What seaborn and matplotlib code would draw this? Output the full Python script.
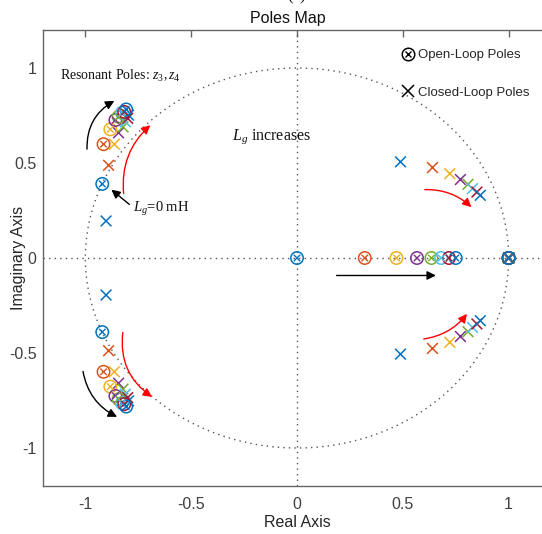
import numpy as np
import pandas as pd
import matplotlib
matplotlib.use("Agg")
import matplotlib.pyplot as plt
from matplotlib.lines import Line2D
import seaborn as sns

# ---------------- data ----------------
series = ["L1", "L2", "L3", "L4", "L5", "L6", "L7", "L8"]
colors = ["#0072BD", "#D95319", "#EDB120", "#7E2F8E", "#77AC30", "#4DBEEE", "#A2142F", "#0072BD"]

ol_real = [0.0, 0.32, 0.47, 0.567, 0.635, 0.681, 0.718, 0.75]
ol_unit = [1.0, 1.0, 1.0, 1.0, 1.0, 1.0, 1.0, 1.0]
ol_res_re = [-0.92, -0.914, -0.882, -0.858, -0.843, -0.827, -0.816, -0.807]
ol_res_im = [0.39, 0.599, 0.677, 0.726, 0.743, 0.764, 0.769, 0.782]

cl_unit = [1.0, 1.0, 1.0, 1.0, 1.0, 1.0, 1.0, 1.0]
cl_left_re = [-0.902, -0.89, -0.863, -0.843, -0.822, -0.811, -0.80, -0.796]
cl_left_im = [0.195, 0.488, 0.599, 0.659, 0.69, 0.717, 0.735, 0.752]
cl_right_re = [0.489, 0.64, 0.722, 0.772, 0.808, 0.829, 0.85, 0.866]
cl_right_im = [0.506, 0.476, 0.444, 0.413, 0.388, 0.365, 0.347, 0.33]

# ---------------- build tables ----------------
ol_rows, cl_rows = [], []
for i, s in enumerate(series):
    ol_rows += [(s, ol_real[i], 0.0), (s, ol_unit[i], 0.0),
                (s, ol_res_re[i], ol_res_im[i]), (s, ol_res_re[i], -ol_res_im[i])]
    cl_rows += [(s, cl_unit[i], 0.0),
                (s, cl_left_re[i], cl_left_im[i]), (s, cl_left_re[i], -cl_left_im[i]),
                (s, cl_right_re[i], cl_right_im[i]), (s, cl_right_re[i], -cl_right_im[i])]
ol = pd.DataFrame(ol_rows, columns=["series", "re", "im"])
cl = pd.DataFrame(cl_rows, columns=["series", "re", "im"])

sns.set_theme(style="white")
plt.rcParams["font.family"] = ["Liberation Sans", "DejaVu Sans"]
plt.rcParams["mathtext.fontset"] = "custom"
plt.rcParams["mathtext.rm"] = "Liberation Serif"
plt.rcParams["mathtext.it"] = "Liberation Serif:italic"

fig = plt.figure(figsize=(5.42, 5.34), dpi=100)
ax = fig.add_axes([43 / 542, 48 / 534, 508 / 542, 456 / 534])
pal = dict(zip(series, colors))

# reference lines
th = np.linspace(0, 2 * np.pi, 400)
ax.plot(np.cos(th), np.sin(th), ls=(0, (1, 3)), color="#555555", lw=1.0, zorder=1)
ax.axhline(0, ls=(0, (1, 3)), color="#555555", lw=1.0, zorder=1)
ax.axvline(0, ls=(0, (1, 3)), color="#555555", lw=1.0, zorder=1)

# closed-loop poles (x)
sns.scatterplot(data=cl, x="re", y="im", hue="series", palette=pal, marker="x",
                s=60, linewidth=1.1, legend=False, ax=ax, zorder=3)
# open-loop poles (circle with x)
sns.scatterplot(data=ol, x="re", y="im", hue="series", palette=pal, marker="o",
                s=80, linewidth=1.1, legend=False, ax=ax, zorder=4)
coll = ax.collections[-1]
fc = coll.get_facecolors()
coll.set_edgecolors(fc)
coll.set_facecolors("none")
sns.scatterplot(data=ol, x="re", y="im", hue="series", palette=pal, marker="x",
                s=22, linewidth=1.0, legend=False, ax=ax, zorder=4)

ax.set_xlim(-1.2, 1.2)
ax.set_ylim(-1.2, 1.2)
ax.set_xticks([-1, -0.5, 0, 0.5, 1])
ax.set_xticklabels(["-1", "-0.5", "0", "0.5", "1"])
ax.set_yticks([-1, -0.5, 0, 0.5, 1])
ax.set_yticklabels(["-1", "-0.5", "0", "0.5", "1"])
ax.tick_params(direction="in", length=5, width=1, color="#666666", labelcolor="#404040",
               labelsize=11.5, top=True, right=True)
ax.tick_params(axis="x", pad=8)
ax.tick_params(axis="y", pad=4.5)
for sp in ax.spines.values():
    sp.set_color("#666666")
    sp.set_linewidth(1)
ax.set_xlabel("Real Axis", fontsize=11.5, color="#262626", labelpad=2)
ax.set_ylabel("Imaginary Axis", fontsize=11.5, color="#262626", va="center", ha="center")
ax.yaxis.set_label_coords(-25 / 508, 0.5)

fig.text(288 / 542, 1 - 18 / 534, "Poles Map", ha="center", va="center", fontsize=11.5, color="#111111")
fig.text(297 / 542, 1 + 4 / 534, "(a)", ha="center", va="center", fontsize=12,
         family="Liberation Serif", color="#111111")

# annotations
serif = dict(family="Liberation Serif", color="#111111")
ax.text(-1.118, 0.958, r"Resonant Poles: $z_3, z_4$", fontsize=10, va="center", **serif)
ax.text(-0.307, 0.636, r"$L_g$ increases", fontsize=11.5, va="center", **serif)
ax.text(-0.774, 0.256, r"$L_g$=0 mH", fontsize=10.5, va="center", **serif)

def arr(start, end, color, rad):
    ax.annotate("", xy=end, xytext=start,
                arrowprops=dict(arrowstyle="-|>", color=color, lw=1.0, mutation_scale=13,
                                shrinkA=0, shrinkB=0, connectionstyle=f"arc3,rad={rad}"))

arr((-0.992, 0.573), (-0.863, 0.827), "black", -0.3)
arr((-0.819, 0.339), (-0.693, 0.699), "red", -0.25)
arr((-0.792, 0.282), (-0.877, 0.36), "black", 0.0)
arr((-1.011, -0.597), (-0.85, -0.836), "black", 0.25)
arr((-0.823, -0.392), (-0.685, -0.731), "red", 0.3)
arr((0.604, 0.36), (0.824, 0.268), "red", -0.2)
arr((0.599, -0.426), (0.803, -0.294), "red", 0.2)
arr((0.187, -0.092), (0.656, -0.092), "black", 0.0)

# legend
h_ol = (Line2D([], [], ls="", marker="o", ms=9, mfc="none", mec="black", mew=1.1),
        Line2D([], [], ls="", marker="x", ms=4.5, mec="black", mew=1.0))
h_cl = Line2D([], [], ls="", marker="x", ms=8.5, mec="black", mew=1.1)
leg = ax.legend([h_ol, h_cl], ["Open-Loop Poles", "Closed-Loop Poles"], frameon=False,
                loc="center left", bbox_to_anchor=(0.679, 0.9035), fontsize=9.5,
                handlelength=1.2, handletextpad=0.2, labelspacing=1.93)

fig.savefig("out.png", dpi=100)
